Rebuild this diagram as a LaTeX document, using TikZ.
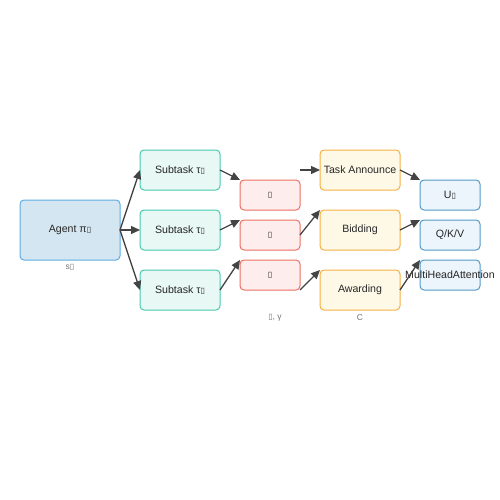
\documentclass[tikz,border=0pt]{standalone}
\usepackage{fontspec}
\setmainfont{Liberation Sans}
\newfontfamily\glyphfont{DejaVu Sans}
\usetikzlibrary{positioning,arrows.meta}
\definecolor{agentfill}{HTML}{D4E6F1}
\definecolor{agentline}{HTML}{5DADE2}
\definecolor{subfill}{HTML}{E8F8F5}
\definecolor{subline}{HTML}{48C9B0}
\definecolor{condfill}{HTML}{FDEDEC}
\definecolor{condline}{HTML}{EC7063}
\definecolor{cnpfill}{HTML}{FEF9E7}
\definecolor{cnpline}{HTML}{F5B041}
\definecolor{attnfill}{HTML}{EBF5FB}
\definecolor{attnline}{HTML}{5499C7}
\definecolor{linkgray}{HTML}{444444}
\newcommand{\nog}{{\glyphfont\fontsize{8}{9}\selectfont ▯}}
\begin{document}
\begin{tikzpicture}[x=1pt, y=-1pt, node distance=20pt,
  box/.style = {draw, rounded corners=4pt, line width=1pt, inner sep=0pt, outer sep=0pt, text=black!85, font=\fontsize{10.6}{12}\selectfont},
  agentbox/.style = {box, fill=agentfill, draw=agentline, minimum width=100pt, minimum height=60pt},
  subbox/.style = {box, fill=subfill, draw=subline, minimum width=80pt, minimum height=40pt},
  condbox/.style = {box, fill=condfill, draw=condline, minimum width=60pt, minimum height=30pt},
  cnpbox/.style = {box, fill=cnpfill, draw=cnpline, minimum width=80pt, minimum height=40pt},
  attnbox/.style = {box, fill=attnfill, draw=attnline, minimum width=60pt, minimum height=30pt},
  note/.style = {font=\fontsize{8.5}{10}\selectfont, text=black!55, inner sep=0pt},
  link/.style = {-{Triangle[length=9pt,width=8pt]}, draw=linkgray, line width=1.3pt}]
\useasboundingbox (0,0) rectangle (500,500);
\node[agentbox] (agent) at (70,230) {Agent π\nog};
\node[subbox] (sub2) [right=of agent] {Subtask τ\nog};
\node[subbox] (sub1) [above=of sub2] {Subtask τ\nog};
\node[subbox] (sub3) [below=of sub2] {Subtask τ\nog};
\node[condbox] (cond2) [right=of sub2, yshift=-5pt] {\nog};
\node[condbox] (cond1) [above=10pt of cond2] {\nog};
\node[condbox] (cond3) [below=10pt of cond2] {\nog};
\node[cnpbox] (cnp2) [right=of cond2, yshift=5pt] {Bidding};
\node[cnpbox] (cnp1) [above=of cnp2] {Task Announce};
\node[cnpbox] (cnp3) [below=of cnp2] {Awarding};
\node[attnbox] (attn2) [right=of cnp2, yshift=-5pt] {Q/K/V};
\node[attnbox] (attn1) [above=10pt of attn2] {U\nog};
\node[attnbox] (attn3) [below=10pt of attn2] {\makebox[0pt]{MultiHeadAttention}};
\coordinate (announce) at (cnp1.west -| cond1.east);
% labels under the columns
\node[note, below=4pt of agent] (state) {s\nog};
\node[note, anchor=north] (params) at ([xshift=5pt, yshift=-4pt]cnp3.south -| cond3) {\nog, γ};
\node[note, below=4pt of cnp3] (cost) {C};
% agent to subtasks
\draw[link] (agent.east) -- (sub1.west);
\draw[link] (agent.east) -- (sub2.west);
\draw[link] (agent.east) -- (sub3.west);
\draw[link] (sub1.east) -- (cond1.north west);
\draw[link] (sub2.east) -- (cond2.north west);
\draw[link] (sub3.east) -- (cond3.north west);
\draw[link] (announce) -- (cnp1.west);
\draw[link] (cond2.east) -- (cnp2.north west);
\draw[link] (cond3.south east) -- (cnp3.north west);
\draw[link] (cnp1.east) -- (attn1.north west);
\draw[link] (cnp2.east) -- (attn2.north west);
\draw[link] (cnp3.east) -- (attn3.north west);
\end{tikzpicture}
\end{document}
